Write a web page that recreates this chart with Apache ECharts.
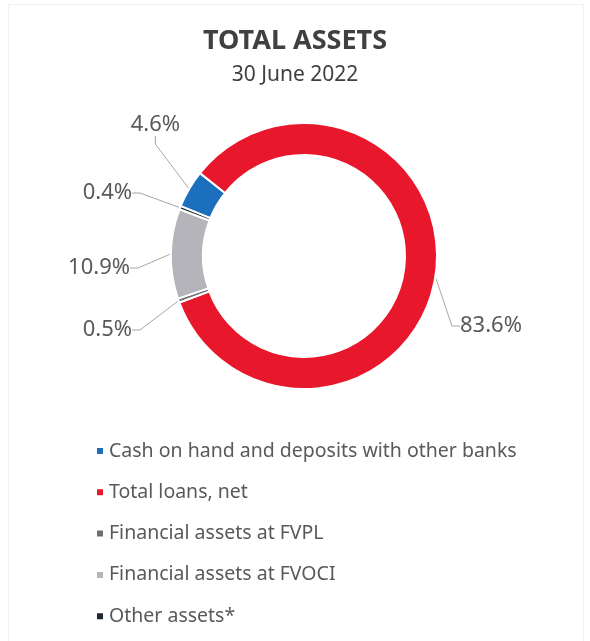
<!DOCTYPE html>
<html>
<head>
<meta charset="utf-8">
<script src="https://cdn.jsdelivr.net/npm/echarts@6/dist/echarts.min.js"></script>
<style>
  html, body { margin: 0; padding: 0; background: #fff; }
  #chart { width: 590px; height: 641px; }
</style>
</head>
<body>
<div id="chart"></div>
<script>
// categories and shares (%) of total assets, 30 June 2022
const categories = [
  'Cash on hand and deposits with other banks',
  'Total loans, net',
  'Financial assets at FVPL',
  'Financial assets at FVOCI',
  'Other assets*'
]
const shares = [4.6, 83.6, 0.5, 10.9, 0.4]
const colors = ['#1b6fbd', '#e8172c', '#6f6f72', '#b5b4ba', '#1e2835']

// where each percentage label sits (x, y, align), same order as categories
const labelSpots = [
  [180, 125, 'right'],
  [460, 326, 'left'],
  [132, 330, 'right'],
  [130, 268, 'right'],
  [132, 193, 'right']
]

let myChart = echarts.init(document.getElementById('chart'))
myChart.setOption({
  backgroundColor: '#fff',
  animation: false,
  title: {
    text: 'TOTAL ASSETS',
    subtext: '30 June 2022',
    left: 'center',
    top: 23,
    itemGap: 10,
    textStyle: {
      fontFamily: 'Noto Sans',
      fontSize: 27,
      fontWeight: 'bold',
      color: '#404040'
    },
    subtextStyle: {
      fontFamily: 'Noto Sans',
      fontSize: 21,
      color: '#404040'
    }
  },
  legend: {
    orient: 'vertical',
    left: 90,
    top: 436,
    icon: 'rect',
    itemWidth: 8,
    itemHeight: 8,
    itemGap: 21.3,
    selectedMode: false,
    textStyle: {
      fontFamily: 'Noto Sans',
      fontSize: 19.5,
      lineHeight: 20,
      color: '#595959'
    },
    data: categories
  },
  graphic: [{
    type: 'rect',
    shape: { x: 8.5, y: 4.5, width: 575, height: 640 },
    style: { fill: 'none', stroke: '#efefef', lineWidth: 1 },
    silent: true
  }],
  series: [
    {
      type: 'pie',
      radius: [101, 133],
      center: [304, 256],
      startAngle: 158,
      clockwise: true,
      avoidLabelOverlap: false,
      itemStyle: {
        borderColor: '#fff',
        borderWidth: 2
      },
      emphasis: { disabled: true },
      label: {
        show: true,
        position: 'outside',
        fontFamily: 'Noto Sans',
        fontSize: 22,
        color: '#595959',
        formatter: p => p.value.toFixed(1) + '%'
      },
      labelLine: {
        show: true,
        length: 10,
        length2: 8,
        lineStyle: { color: '#a6a6a6', width: 1 }
      },
      labelLayout: function (params) {
        const s = labelSpots[params.dataIndex]
        return { x: s[0], y: s[1], align: s[2], verticalAlign: 'middle' }
      },
      data: categories.map((name, i) => ({
        name: name,
        value: shares[i],
        itemStyle: { color: colors[i] }
      }))
    }
  ]
})
</script>
</body>
</html>
